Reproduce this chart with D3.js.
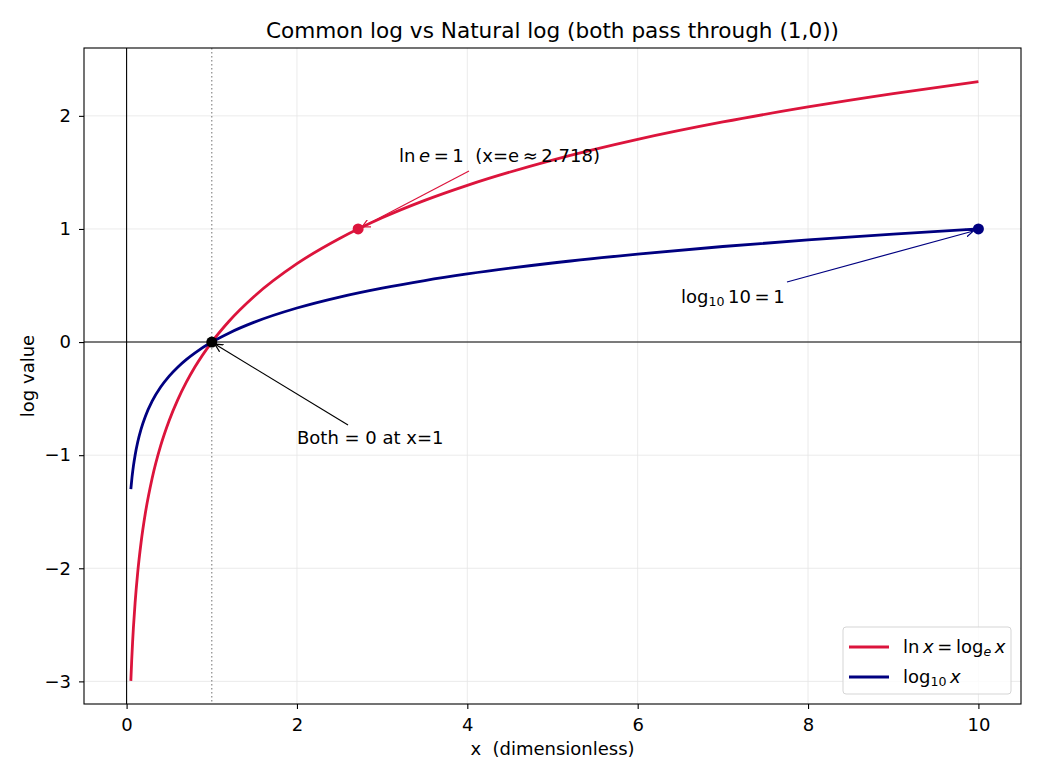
<!DOCTYPE html>
<html>
<head>
<meta charset="utf-8">
<script src="https://cdn.jsdelivr.net/npm/d3@7"></script>
<style>
  body { margin: 0; background: #fff; }
  svg text { font-family: "DejaVu Sans", sans-serif; fill: #000; }
</style>
</head>
<body>
<div id="chart"></div>
<script>
// data
const xs      = [0.05, 0.06, 0.07, 0.08, 0.1, 0.13, 0.17, 0.22, 0.3, 0.4, 0.5, 0.6, 0.7, 0.8, 1, 1.2, 1.5, 2, 2.5, 3, 3.5, 4, 5, 6, 7, 8, 9, 10];
const lnVals  = [-2.996, -2.813, -2.659, -2.526, -2.303, -2.040, -1.772, -1.514, -1.204, -0.916, -0.693, -0.511, -0.357, -0.223, 0, 0.182, 0.405, 0.693, 0.916, 1.099, 1.253, 1.386, 1.609, 1.792, 1.946, 2.079, 2.197, 2.303];
const logVals = [-1.301, -1.222, -1.155, -1.097, -1.0, -0.886, -0.770, -0.658, -0.523, -0.398, -0.301, -0.222, -0.155, -0.097, 0, 0.079, 0.176, 0.301, 0.398, 0.477, 0.544, 0.602, 0.699, 0.778, 0.845, 0.903, 0.954, 1.0];
const xTicks = [0, 2, 4, 6, 8, 10];
const yTicks = [-3, -2, -1, 0, 1, 2];
const marks = [
  { x: 2.718, y: 1, color: "crimson" },
  { x: 10, y: 1, color: "navy" },
  { x: 1, y: 0, color: "black" }
];

const W = 1040, H = 780;
const m = { left: 84, right: 19, top: 48, bottom: 76 };
const FS = 18; // base font size

const svg = d3.select("#chart").append("svg")
  .attr("width", W)
  .attr("height", H);

const x = d3.scaleLinear().domain([-0.5, 10.5]).range([m.left, W - m.right]);
const y = d3.scaleLinear().domain([-3.2, 2.6]).range([H - m.bottom, m.top]);

// grid
svg.append("g").selectAll("line").data(xTicks).join("line")
  .attr("x1", d => x(d)).attr("x2", d => x(d))
  .attr("y1", m.top).attr("y2", H - m.bottom)
  .attr("stroke", "#e6e6e6").attr("stroke-width", 0.8);
svg.append("g").selectAll("line").data(yTicks).join("line")
  .attr("x1", m.left).attr("x2", W - m.right)
  .attr("y1", d => y(d)).attr("y2", d => y(d))
  .attr("stroke", "#e6e6e6").attr("stroke-width", 0.8);

// reference lines
svg.append("line")
  .attr("x1", x(0)).attr("x2", x(0)).attr("y1", m.top).attr("y2", H - m.bottom)
  .attr("stroke", "#000").attr("stroke-width", 1.1);
svg.append("line")
  .attr("x1", m.left).attr("x2", W - m.right).attr("y1", y(0)).attr("y2", y(0))
  .attr("stroke", "#000").attr("stroke-width", 1.1);
svg.append("line")
  .attr("x1", x(1)).attr("x2", x(1)).attr("y1", m.top).attr("y2", H - m.bottom)
  .attr("stroke", "#888").attr("stroke-width", 1.2).attr("stroke-dasharray", "1.5,2.5");

// curves
const line = vals => d3.line()
  .x((d, i) => x(xs[i]))
  .y((d, i) => y(vals[i]))
  .curve(d3.curveMonotoneX)(vals);

svg.append("path").attr("d", line(lnVals))
  .attr("fill", "none").attr("stroke", "crimson").attr("stroke-width", 2.8);
svg.append("path").attr("d", line(logVals))
  .attr("fill", "none").attr("stroke", "navy").attr("stroke-width", 2.8);

// arrows
const defs = svg.append("defs");
["crimson", "navy", "black"].forEach(c => {
  defs.append("marker")
    .attr("id", "arr-" + c)
    .attr("viewBox", "0 -5 10 10")
    .attr("refX", 9).attr("refY", 0)
    .attr("markerWidth", 9).attr("markerHeight", 9)
    .attr("markerUnits", "userSpaceOnUse")
    .attr("orient", "auto")
    .append("path")
    .attr("d", "M0,-4.5L9,0L0,4.5")
    .attr("fill", "none").attr("stroke", c).attr("stroke-width", 1.4);
});

function arrow(x1, y1, x2, y2, c) {
  svg.append("line")
    .attr("x1", x1).attr("y1", y1)
    .attr("x2", x2).attr("y2", y2)
    .attr("stroke", c).attr("stroke-width", 1.2)
    .attr("marker-end", "url(#arr-" + c + ")");
}
arrow(469, 171, x(2.718) + 4, y(1) - 2, "crimson");
arrow(787, 282, x(10) - 5, y(1) + 2, "navy");
arrow(348, 425, x(1) + 3, y(0) + 2, "black");

// dots
svg.append("g").selectAll("circle").data(marks).join("circle")
  .attr("cx", d => x(d.x)).attr("cy", d => y(d.y))
  .attr("r", 5.5).attr("fill", d => d.color);

// annotation text
const t1 = svg.append("text").attr("x", 399).attr("y", 162).style("font-size", FS + "px");
t1.append("tspan").text("ln\u2009");
t1.append("tspan").attr("font-style", "italic").text("e");
t1.append("tspan").text("\u2009=\u20091\u00a0\u00a0(x=e\u2009\u2248\u20092.718)");

const t2 = svg.append("text").attr("x", 681).attr("y", 303).style("font-size", FS + "px");
t2.append("tspan").text("log");
t2.append("tspan").style("font-size", (FS * 0.7) + "px").attr("dy", 3).text("10");
t2.append("tspan").attr("dy", -3).text("\u200910\u2009=\u20091");

svg.append("text").attr("x", 297).attr("y", 444).style("font-size", FS + "px")
  .text("Both = 0 at x=1");

// frame
svg.append("rect")
  .attr("x", m.left).attr("y", m.top)
  .attr("width", W - m.left - m.right).attr("height", H - m.top - m.bottom)
  .attr("fill", "none").attr("stroke", "#000").attr("stroke-width", 1.1);

// axes
const gx = svg.append("g").attr("transform", `translate(0,${H - m.bottom})`)
  .call(d3.axisBottom(x).tickValues(xTicks).tickSize(5).tickPadding(9).tickFormat(d3.format("d")));
const gy = svg.append("g").attr("transform", `translate(${m.left},0)`)
  .call(d3.axisLeft(y).tickValues(yTicks).tickSize(5).tickPadding(8)
    .tickFormat(d => d < 0 ? "\u2212" + Math.abs(d) : d));
[gx, gy].forEach(g => {
  g.select(".domain").remove();
  g.selectAll("text").style("font-size", FS + "px").style("font-family", "DejaVu Sans").attr("fill", "#000");
  g.selectAll("line").attr("stroke", "#000").attr("stroke-width", 1.1);
});

svg.append("text").attr("x", (m.left + W - m.right) / 2).attr("y", 755)
  .attr("text-anchor", "middle").style("font-size", FS + "px").text("x\u00a0\u00a0(dimensionless)");
svg.append("text")
  .attr("transform", `translate(34,${(m.top + H - m.bottom) / 2}) rotate(-90)`)
  .attr("text-anchor", "middle").style("font-size", FS + "px").text("log value");
svg.append("text").attr("x", (m.left + W - m.right) / 2).attr("y", 38)
  .attr("text-anchor", "middle").style("font-size", (FS * 1.2) + "px")
  .text("Common log vs Natural log (both pass through (1,0))");

// legend
const lg = svg.append("g").attr("transform", "translate(843,627)");
lg.append("rect").attr("width", 168).attr("height", 67).attr("rx", 3)
  .attr("fill", "#fff").attr("fill-opacity", 0.8).attr("stroke", "#d5d5d5");
const leg = [{ c: "crimson", y: 20 }, { c: "navy", y: 50 }];
lg.selectAll("line.k").data(leg).join("line")
  .attr("x1", 6).attr("x2", 46).attr("y1", d => d.y).attr("y2", d => d.y)
  .attr("stroke", d => d.c).attr("stroke-width", 2.8);
const l1 = lg.append("text").attr("x", 60).attr("y", 26).style("font-size", FS + "px");
l1.append("tspan").text("ln\u2009");
l1.append("tspan").attr("font-style", "italic").text("x");
l1.append("tspan").text("\u2009=\u2009log");
l1.append("tspan").attr("font-style", "italic").style("font-size", (FS * 0.7) + "px").attr("dy", 3).text("e");
l1.append("tspan").attr("font-style", "italic").attr("dy", -3).text("\u2009x");
const l2 = lg.append("text").attr("x", 60).attr("y", 56).style("font-size", FS + "px");
l2.append("tspan").text("log");
l2.append("tspan").style("font-size", (FS * 0.7) + "px").attr("dy", 3).text("10");
l2.append("tspan").attr("font-style", "italic").attr("dy", -3).text("\u2009x");
</script>
</body>
</html>
